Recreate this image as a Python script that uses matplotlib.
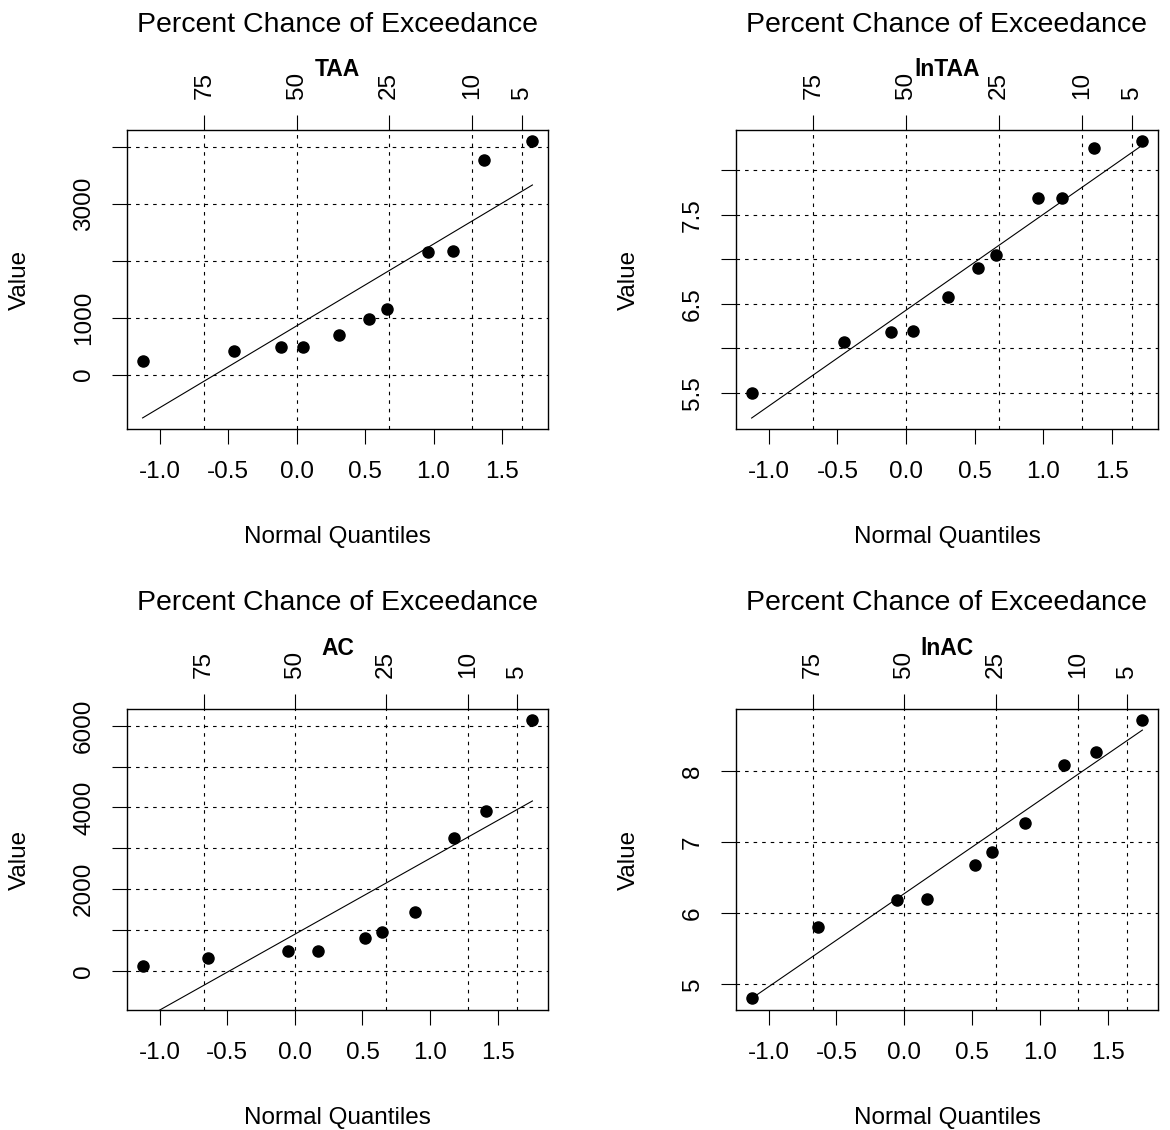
import matplotlib
matplotlib.use("Agg")
import matplotlib.pyplot as plt

plt.rcParams['font.family'] = ['Liberation Sans', 'DejaVu Sans']
plt.rcParams['axes.unicode_minus'] = False

# percent chance of exceedance shown on the top axis, and its normal quantile
pct_labels = ['75', '50', '25', '10', '5']
pct_q = [-0.6745, 0.0, 0.6745, 1.2816, 1.6449]

bottom_ticks = [-1.0, -0.5, 0.0, 0.5, 1.0, 1.5]

# TAA data (normal quantiles and values)
taa_q = [-1.125, -0.455, -0.112, 0.049, 0.308, 0.526, 0.659, 0.959, 1.139, 1.371, 1.722]
taa = [234, 422, 480, 492, 703, 978, 1148, 2156, 2173, 3785, 4112]
ln_taa = [5.50, 6.075, 6.19, 6.198, 6.578, 6.899, 7.049, 7.683, 7.690, 8.243, 8.328]
taa_fit = [-762, 3339]
ln_taa_fit = [5.22, 8.28]

# AC data
ac_q = [-1.125, -0.638, -0.053, 0.168, 0.521, 0.648, 0.890, 1.180, 1.411, 1.756]
ac = [122, 320, 480, 488, 798, 955, 1434, 3250, 3900, 6137]
ln_ac = [4.802, 5.805, 6.187, 6.196, 6.686, 6.865, 7.270, 8.085, 8.269, 8.721]
ac_fit = [-1193, 4157]
ln_ac_fit = [4.80, 8.58]

taa_yticks = [0, 1000, 2000, 3000, 4000]
taa_ylabels = ['0', '1000', '', '3000', '']
ln_taa_yticks = [5.5, 6.0, 6.5, 7.0, 7.5, 8.0]
ln_taa_ylabels = ['5.5', '', '6.5', '', '7.5', '']
ac_yticks = [0, 1000, 2000, 3000, 4000, 5000, 6000]
ac_ylabels = ['0', '', '2000', '', '4000', '', '6000']
ln_ac_yticks = [5, 6, 7, 8]
ln_ac_ylabels = ['5', '6', '7', '8']

panels = [
    ('TAA', taa_q, taa, taa_fit, taa_yticks, taa_ylabels, (-957, 4307)),
    ('lnTAA', taa_q, ln_taa, ln_taa_fit, ln_taa_yticks, ln_taa_ylabels, (5.097, 8.45)),
    ('AC', ac_q, ac, ac_fit, ac_yticks, ac_ylabels, (-957, 6407)),
    ('lnAC', ac_q, ln_ac, ln_ac_fit, ln_ac_yticks, ln_ac_ylabels, (4.637, 8.877)),
]

W, H = 1170, 1130
fig = plt.figure(figsize=(W / 100, H / 100), dpi=100)

# box positions in pixels: left, top, right, bottom
boxes = [(127, 130, 548, 429), (736, 130, 1158, 429),
         (127, 709, 548, 1010), (736, 709, 1158, 1010)]

dots = (0, (3.2, 4.5))

for (name, q, vals, fit, yt, yl, ylim), (l, t, r, b) in zip(panels, boxes):
    ax = fig.add_axes([l / W, 1 - b / H, (r - l) / W, (b - t) / H])
    bw, bh = r - l, b - t

    ax.plot(q, vals, 'o', color='black', markersize=8, zorder=3)
    ax.plot([q[0], q[-1]], fit, '-', color='black', lw=0.8, zorder=2)

    pad = 0.04 * (q[-1] - q[0])
    ax.set_xlim(q[0] - pad, q[-1] + pad)
    ax.set_ylim(*ylim)

    for z in pct_q:
        ax.axvline(z, color='black', lw=0.8, linestyle=dots, zorder=1)
    ax.set_yticks(yt)
    ax.set_yticklabels(yl)
    ax.grid(axis='y', color='black', lw=0.8, linestyle=dots)

    ax.set_xticks(bottom_ticks)
    ax.set_xticklabels(['%.1f' % v for v in bottom_ticks])
    ax.tick_params(axis='x', length=11, width=0.8, pad=12, labelsize=17.5)
    ax.tick_params(axis='y', length=11, width=0.8, pad=12, labelsize=17.5,
                   labelrotation=90)
    for lab in ax.get_yticklabels():
        lab.set_va('center')
    for s in ax.spines.values():
        s.set_linewidth(1.0)

    top = ax.secondary_xaxis('top')
    top.set_xticks(pct_q)
    top.set_xticklabels(pct_labels, rotation=90)
    top.tick_params(length=11, width=0.8, pad=11, labelsize=17.5)
    top.spines['top'].set_visible(False)

    ax.text(0.5, 1 + 98.5 / bh, 'Percent Chance of Exceedance', transform=ax.transAxes,
            ha='center', va='baseline', fontsize=20.5)
    ax.text(0.5, 1 + 54 / bh, name, transform=ax.transAxes,
            ha='center', va='baseline', fontsize=16.5, fontweight='bold')
    ax.text(0.5, -114 / bh, 'Normal Quantiles', transform=ax.transAxes,
            ha='center', va='baseline', fontsize=17.5)
    ax.text(-107 / bw, 0.5, 'Value', transform=ax.transAxes, rotation=90,
            ha='center', va='center', fontsize=17.5)

fig.savefig('out.png', dpi=100)
